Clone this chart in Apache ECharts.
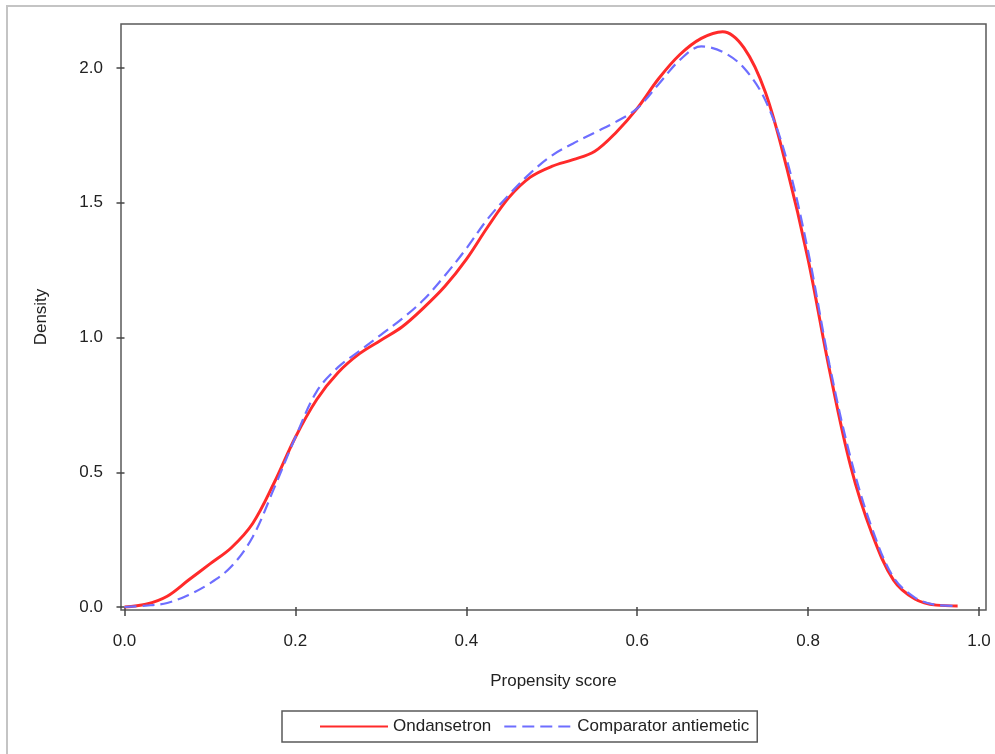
<!DOCTYPE html>
<html>
<head>
<meta charset="utf-8">
<script src="https://cdn.jsdelivr.net/npm/echarts@6/dist/echarts.min.js"></script>
<style>
  html, body { margin: 0; padding: 0; background: #fff; }
  #chart { width: 995px; height: 754px; }
</style>
</head>
<body>
<div id="chart"></div>
<script>
// propensity score grid (shared by both curves)
const scoreX = [
  0.000, 0.025, 0.050, 0.075, 0.100, 0.125, 0.150, 0.175, 0.200, 0.225,
  0.250, 0.275, 0.300, 0.325, 0.350, 0.375, 0.400, 0.425, 0.450, 0.475,
  0.500, 0.525, 0.550, 0.575, 0.600, 0.625, 0.650, 0.675, 0.700, 0.725,
  0.750, 0.775, 0.800, 0.825, 0.850, 0.875, 0.900, 0.925, 0.950, 0.975
];
const ondansetron = [
  0.000, 0.010, 0.040, 0.100, 0.160, 0.220, 0.310, 0.460, 0.630, 0.770,
  0.870, 0.940, 0.990, 1.040, 1.110, 1.190, 1.290, 1.410, 1.520, 1.595,
  1.635, 1.660, 1.690, 1.760, 1.850, 1.960, 2.050, 2.110, 2.135, 2.075,
  1.910, 1.630, 1.290, 0.880, 0.520, 0.270, 0.100, 0.030, 0.007, 0.004
];
const comparator = [
  0.000, 0.005, 0.015, 0.045, 0.088, 0.150, 0.260, 0.440, 0.630, 0.800,
  0.890, 0.950, 1.010, 1.070, 1.140, 1.230, 1.330, 1.440, 1.530, 1.610,
  1.675, 1.720, 1.760, 1.800, 1.850, 1.940, 2.030, 2.080, 2.060, 2.000,
  1.880, 1.660, 1.320, 0.900, 0.550, 0.290, 0.110, 0.035, 0.008, 0.004
];
const xTicks = [0, 0.2, 0.4, 0.6, 0.8, 1.0];
const yTicks = [0, 0.5, 1.0, 1.5, 2.0];
const seriesNames = ['Ondansetron', 'Comparator antiemetic'];

const font = "'Liberation Sans', Arial, sans-serif";
const toPairs = (ys) => scoreX.map((x, i) => [x, ys[i]]);

const chart = echarts.init(document.getElementById('chart'), null, { renderer: 'canvas' });
chart.setOption({
  animation: false,
  backgroundColor: '#fff',
  textStyle: { fontFamily: font },
  graphic: [
    {
      type: 'rect',
      shape: { x: 7, y: 6, width: 1000, height: 800 },
      style: { fill: 'none', stroke: '#c4c4c4', lineWidth: 2 },
      silent: true
    }
  ],
  grid: {
    left: 121,
    top: 24,
    right: 9,
    bottom: 144,
    show: true,
    borderColor: '#5a5a5a',
    borderWidth: 1.5,
    backgroundColor: '#fff'
  },
  legend: {
    left: 282,
    top: 711,
    padding: [7, 8, 7, 37],
    borderColor: '#5a5a5a',
    borderWidth: 1.5,
    itemWidth: 68,
    itemHeight: 14,
    itemGap: 12,
    itemStyle: { opacity: 0 },
    textStyle: { fontFamily: font, fontSize: 17, color: '#222' },
    data: seriesNames
  },
  xAxis: {
    type: 'value',
    min: -0.0041,
    max: 1.0082,
    name: 'Propensity score',
    nameLocation: 'middle',
    nameGap: 63,
    nameTextStyle: { fontFamily: font, fontSize: 17, color: '#222' },
    axisLine: { show: false },
    axisTick: { show: true, length: 9, lineStyle: { color: '#444', width: 1.5 }, customValues: xTicks },
    axisLabel: {
      fontFamily: font, fontSize: 17, color: '#222', margin: 23,
      customValues: xTicks,
      formatter: (v) => v.toFixed(1)
    },
    splitLine: { show: false }
  },
  yAxis: {
    type: 'value',
    min: -0.0111,
    max: 2.1633,
    name: 'Density',
    nameLocation: 'middle',
    nameGap: 71,
    nameTextStyle: { fontFamily: font, fontSize: 17, color: '#222' },
    axisLine: { show: false },
    axisTick: { show: true, length: 8, lineStyle: { color: '#444', width: 1.5 }, customValues: yTicks },
    axisLabel: {
      fontFamily: font, fontSize: 17, color: '#222', margin: 18,
      customValues: yTicks,
      formatter: (v) => v.toFixed(1)
    },
    splitLine: { show: false }
  },
  series: [
    {
      name: seriesNames[0],
      type: 'line',
      data: toPairs(ondansetron),
      smooth: 0.35,
      symbol: 'none',
      lineStyle: { color: '#ff2a2a', width: 3 },
      itemStyle: { color: '#ff2a2a' },
      z: 2
    },
    {
      name: seriesNames[1],
      type: 'line',
      data: toPairs(comparator),
      smooth: 0.35,
      symbol: 'none',
      lineStyle: { color: '#6e6eff', width: 2.2, type: [12, 6] },
      itemStyle: { color: '#6e6eff' },
      z: 3
    }
  ]
});
</script>
</body>
</html>
